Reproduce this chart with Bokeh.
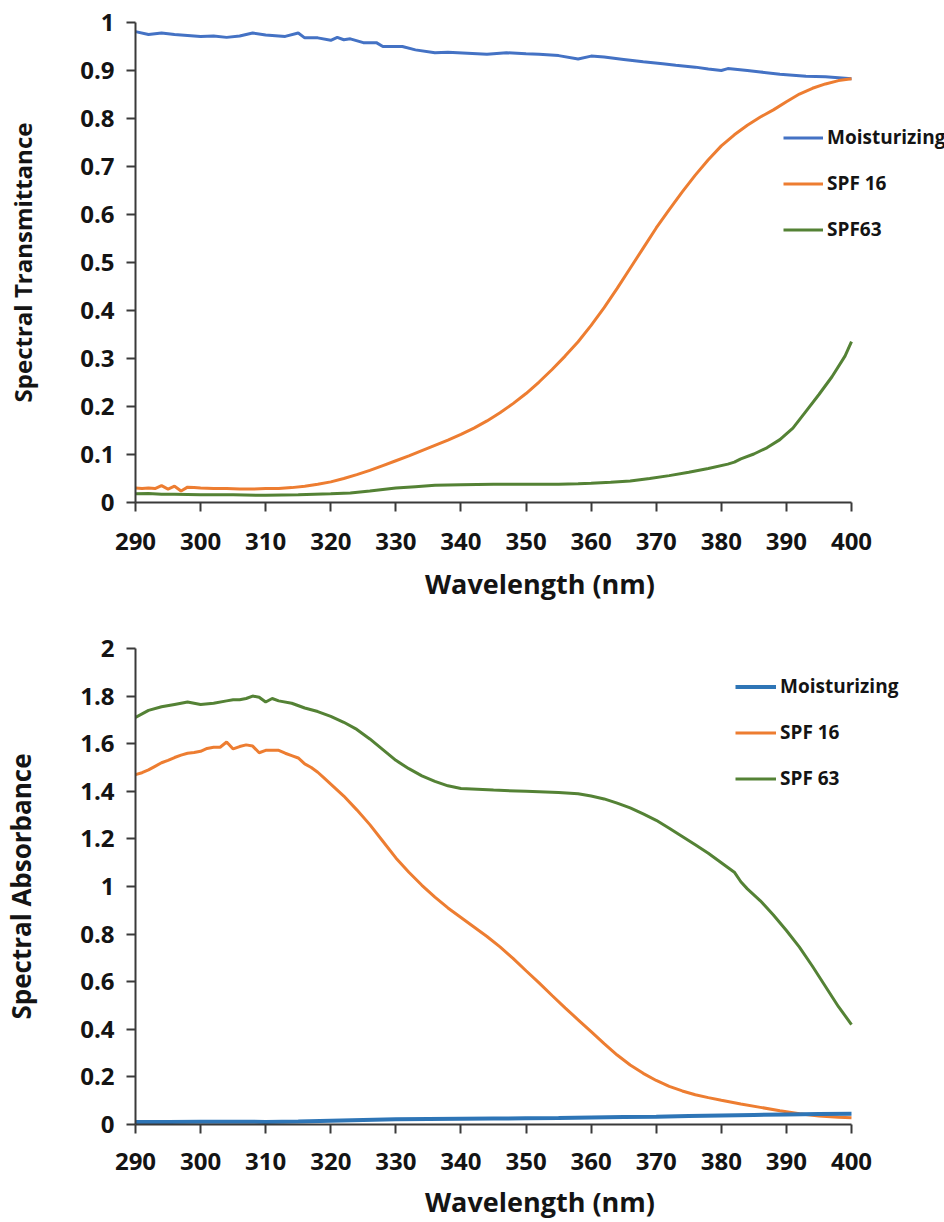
from bokeh.plotting import figure
from bokeh.layouts import column
from bokeh.models import Range1d, FixedTicker, CustomJSTickFormatter, Legend, LegendItem
from bokeh.embed import file_html
from bokeh.resources import INLINE

# ---------------- data: top panel (spectral transmittance) ----------------
t_moist_nm = [290, 292, 294, 296, 298, 300, 302, 304, 306, 308, 310, 312, 313, 315, 316, 318,
              320, 321, 322, 323, 325, 327, 328, 331, 333, 336, 338, 341, 344, 347, 350, 352,
              355, 358, 360, 362, 365, 368, 371, 373, 376, 378, 380, 381, 384, 386, 389, 391,
              393, 396, 398, 400]
t_moist = [0.981, 0.975, 0.978, 0.975, 0.973, 0.971, 0.972, 0.969, 0.972, 0.978, 0.974, 0.972,
           0.971, 0.978, 0.968, 0.968, 0.963, 0.969, 0.964, 0.966, 0.958, 0.958, 0.950, 0.950,
           0.943, 0.937, 0.938, 0.936, 0.934, 0.937, 0.935, 0.934, 0.931, 0.924, 0.930, 0.928,
           0.923, 0.918, 0.914, 0.911, 0.907, 0.903, 0.900, 0.904, 0.900, 0.897, 0.892, 0.890,
           0.888, 0.887, 0.885, 0.883]

t_spf16_nm = [290, 291, 292, 293, 294, 295, 296, 297, 298, 299, 300, 302, 304, 306, 308, 310,
              312, 314, 316, 318, 320, 322, 324, 326, 328, 330, 332, 334, 336, 338, 340, 342,
              344, 346, 348, 350, 352, 354, 356, 358, 360, 362, 364, 366, 368, 370, 372, 374,
              376, 378, 380, 382, 384, 386, 388, 390, 392, 394, 396, 398, 400]
t_spf16 = [0.030, 0.029, 0.030, 0.029, 0.035, 0.028, 0.034, 0.024, 0.032, 0.031, 0.030, 0.029,
           0.029, 0.028, 0.028, 0.029, 0.029, 0.031, 0.034, 0.038, 0.043, 0.050, 0.058, 0.067,
           0.077, 0.087, 0.097, 0.108, 0.119, 0.130, 0.142, 0.155, 0.170, 0.187, 0.206, 0.227,
           0.251, 0.277, 0.305, 0.335, 0.369, 0.406, 0.446, 0.488, 0.530, 0.572, 0.610, 0.647,
           0.682, 0.714, 0.743, 0.766, 0.786, 0.803, 0.818, 0.835, 0.851, 0.863, 0.872, 0.879,
           0.883]

t_spf63_nm = [290, 292, 294, 296, 300, 305, 310, 315, 320, 323, 326, 328, 330, 333, 336, 340,
              345, 350, 355, 358, 360, 363, 366, 369, 372, 375, 378, 381, 382, 383, 385, 387,
              389, 391, 393, 395, 397, 399, 400]
t_spf63 = [0.018, 0.019, 0.017, 0.017, 0.016, 0.016, 0.015, 0.016, 0.018, 0.020, 0.024, 0.027,
           0.030, 0.033, 0.036, 0.037, 0.038, 0.038, 0.038, 0.039, 0.040, 0.042, 0.045, 0.050,
           0.056, 0.063, 0.071, 0.080, 0.084, 0.091, 0.101, 0.114, 0.131, 0.155, 0.190, 0.225,
           0.262, 0.305, 0.335]

# ---------------- data: bottom panel (spectral absorbance) ----------------
a_moist_nm = [290, 295, 300, 305, 310, 315, 320, 325, 330, 335, 340, 345, 350, 355, 360, 365,
              370, 375, 380, 385, 390, 395, 400]
a_moist = [0.010, 0.011, 0.012, 0.012, 0.011, 0.013, 0.016, 0.019, 0.022, 0.023, 0.024, 0.025,
           0.026, 0.027, 0.029, 0.031, 0.033, 0.036, 0.038, 0.040, 0.042, 0.044, 0.045]

a_spf16_nm = [290, 291, 292, 293, 294, 295, 296, 297, 298, 299, 300, 301, 302, 303, 304, 305,
              306, 307, 308, 309, 310, 311, 312, 313, 314, 315, 316, 317, 318, 319, 320, 322,
              324, 326, 328, 330, 332, 334, 336, 338, 340, 342, 344, 346, 348, 350, 352, 354,
              356, 358, 360, 362, 364, 366, 368, 370, 372, 374, 376, 378, 380, 383, 386, 389,
              392, 395, 398, 400]
a_spf16 = [1.470, 1.478, 1.490, 1.505, 1.520, 1.530, 1.542, 1.552, 1.560, 1.563, 1.568, 1.580,
           1.585, 1.585, 1.607, 1.578, 1.588, 1.595, 1.590, 1.562, 1.572, 1.572, 1.572, 1.560,
           1.550, 1.540, 1.515, 1.500, 1.480, 1.455, 1.430, 1.380, 1.322, 1.260, 1.190, 1.120,
           1.060, 1.005, 0.955, 0.910, 0.870, 0.830, 0.790, 0.746, 0.698, 0.646, 0.595, 0.542,
           0.490, 0.440, 0.390, 0.340, 0.292, 0.250, 0.215, 0.185, 0.160, 0.141, 0.125, 0.113,
           0.102, 0.086, 0.072, 0.058, 0.045, 0.036, 0.030, 0.028]

a_spf63_nm = [290, 292, 294, 296, 298, 300, 302, 304, 305, 306, 307, 308, 309, 310, 311, 312,
              314, 316, 318, 320, 322, 324, 326, 328, 330, 332, 334, 336, 338, 340, 345, 350,
              355, 358, 360, 362, 364, 366, 368, 370, 372, 374, 376, 378, 380, 381, 382, 383,
              384, 386, 388, 390, 392, 394, 396, 398, 400]
a_spf63 = [1.710, 1.740, 1.755, 1.765, 1.775, 1.765, 1.770, 1.780, 1.785, 1.785, 1.790, 1.800,
           1.795, 1.775, 1.790, 1.780, 1.770, 1.750, 1.735, 1.715, 1.690, 1.660, 1.620, 1.575,
           1.530, 1.495, 1.465, 1.442, 1.423, 1.412, 1.405, 1.400, 1.395, 1.390, 1.380, 1.368,
           1.350, 1.330, 1.305, 1.278, 1.245, 1.210, 1.175, 1.140, 1.100, 1.080, 1.060, 1.020,
           0.990, 0.940, 0.880, 0.815, 0.745, 0.665, 0.580, 0.495, 0.420]

x_ticks = [290, 300, 310, 320, 330, 340, 350, 360, 370, 380, 390, 400]
t_ticks = [0, 0.1, 0.2, 0.3, 0.4, 0.5, 0.6, 0.7, 0.8, 0.9, 1]
a_ticks = [0, 0.2, 0.4, 0.6, 0.8, 1, 1.2, 1.4, 1.6, 1.8, 2]

labels_top = ["Moisturizing", "SPF 16", "SPF63"]
labels_bot = ["Moisturizing", "SPF 16", "SPF 63"]

FONT = "Open Sans"
TXT = "#141414"
AX = "#3a3a3a"

X_START, X_END = 290, 400
# frame runs past 400 nm (axis itself bounded to 290-400) so the legend text is not clipped
X_VIEW_END = X_START + (944 - 135) * (X_END - X_START) / 716.0


def style(p, yticks, ytitle, ytitle_size):
    p.outline_line_color = None
    p.xgrid.visible = False
    p.ygrid.visible = False
    p.xaxis.ticker = FixedTicker(ticks=x_ticks)
    p.xaxis.bounds = (X_START, X_END)
    p.yaxis.ticker = FixedTicker(ticks=yticks)
    p.yaxis.formatter = CustomJSTickFormatter(code="return String(Math.round(tick*10)/10);")
    for ax in (p.xaxis[0], p.yaxis[0]):
        ax.axis_line_color = AX
        ax.axis_line_width = 2
        ax.major_tick_line_color = AX
        ax.major_tick_line_width = 2
        ax.major_tick_in = 0
        ax.major_tick_out = 9
        ax.minor_tick_line_color = None
        ax.major_label_text_font = FONT
        ax.major_label_text_font_style = "bold"
        ax.major_label_text_font_size = "24px"
        ax.major_label_text_color = TXT
        ax.axis_label_text_font = FONT
        ax.axis_label_text_font_style = "bold"
        ax.axis_label_text_color = TXT
    p.xaxis.axis_label = "Wavelength (nm)"
    p.xaxis.axis_label_text_font_size = "27px"
    p.yaxis.axis_label = ytitle
    p.yaxis.axis_label_text_font_size = ytitle_size
    p.yaxis.major_label_standoff = 12
    p.yaxis.axis_label_standoff = 38


def add_legend(p, renderers, labels, loc, glyph_w):
    items = [LegendItem(label=l, renderers=[r]) for l, r in zip(labels, renderers)]
    lg = Legend(items=items, location=loc, orientation="vertical",
                glyph_width=glyph_w, glyph_height=25, label_height=25,
                label_standoff=4, spacing=20, padding=0, margin=0,
                border_line_color=None, background_fill_alpha=0,
                label_text_font=FONT, label_text_font_style="bold",
                label_text_font_size="19px", label_text_color=TXT)
    p.add_layout(lg)


# ---------------- top figure ----------------
top = figure(width=944, height=604, output_backend="svg", toolbar_location=None,
             x_range=Range1d(X_START, X_VIEW_END), y_range=Range1d(0, 1),
             min_border_left=135, min_border_right=0, min_border_top=22, min_border_bottom=100)
style(top, t_ticks, "Spectral Transmittance", "24px")
top.xaxis.major_label_standoff = 21
top.xaxis.axis_label_standoff = 12
r1 = top.line(t_moist_nm, t_moist, line_color="#4472C4", line_width=3)
r2 = top.line(t_spf16_nm, t_spf16, line_color="#ED7D31", line_width=3)
r3 = top.line(t_spf63_nm, t_spf63, line_color="#548235", line_width=3)
add_legend(top, [r1, r2, r3], labels_top, (648, 260), 40)

# ---------------- bottom figure ----------------
bot = figure(width=944, height=618, output_backend="svg", toolbar_location=None,
             x_range=Range1d(X_START, X_VIEW_END), y_range=Range1d(0, 2),
             min_border_left=135, min_border_right=0, min_border_top=44, min_border_bottom=96)
style(bot, a_ticks, "Spectral Absorbance", "26px")
bot.xaxis.major_label_standoff = 19
bot.xaxis.axis_label_standoff = 10
b2 = bot.line(a_spf16_nm, a_spf16, line_color="#ED7D31", line_width=3)
b3 = bot.line(a_spf63_nm, a_spf63, line_color="#548235", line_width=3)
b1 = bot.line(a_moist_nm, a_moist, line_color="#2E75B6", line_width=4)
add_legend(bot, [b1, b2, b3], labels_bot, (600, 333), 41)

layout = column(top, bot, spacing=0)
open("out.html", "w").write(file_html(layout, INLINE))
